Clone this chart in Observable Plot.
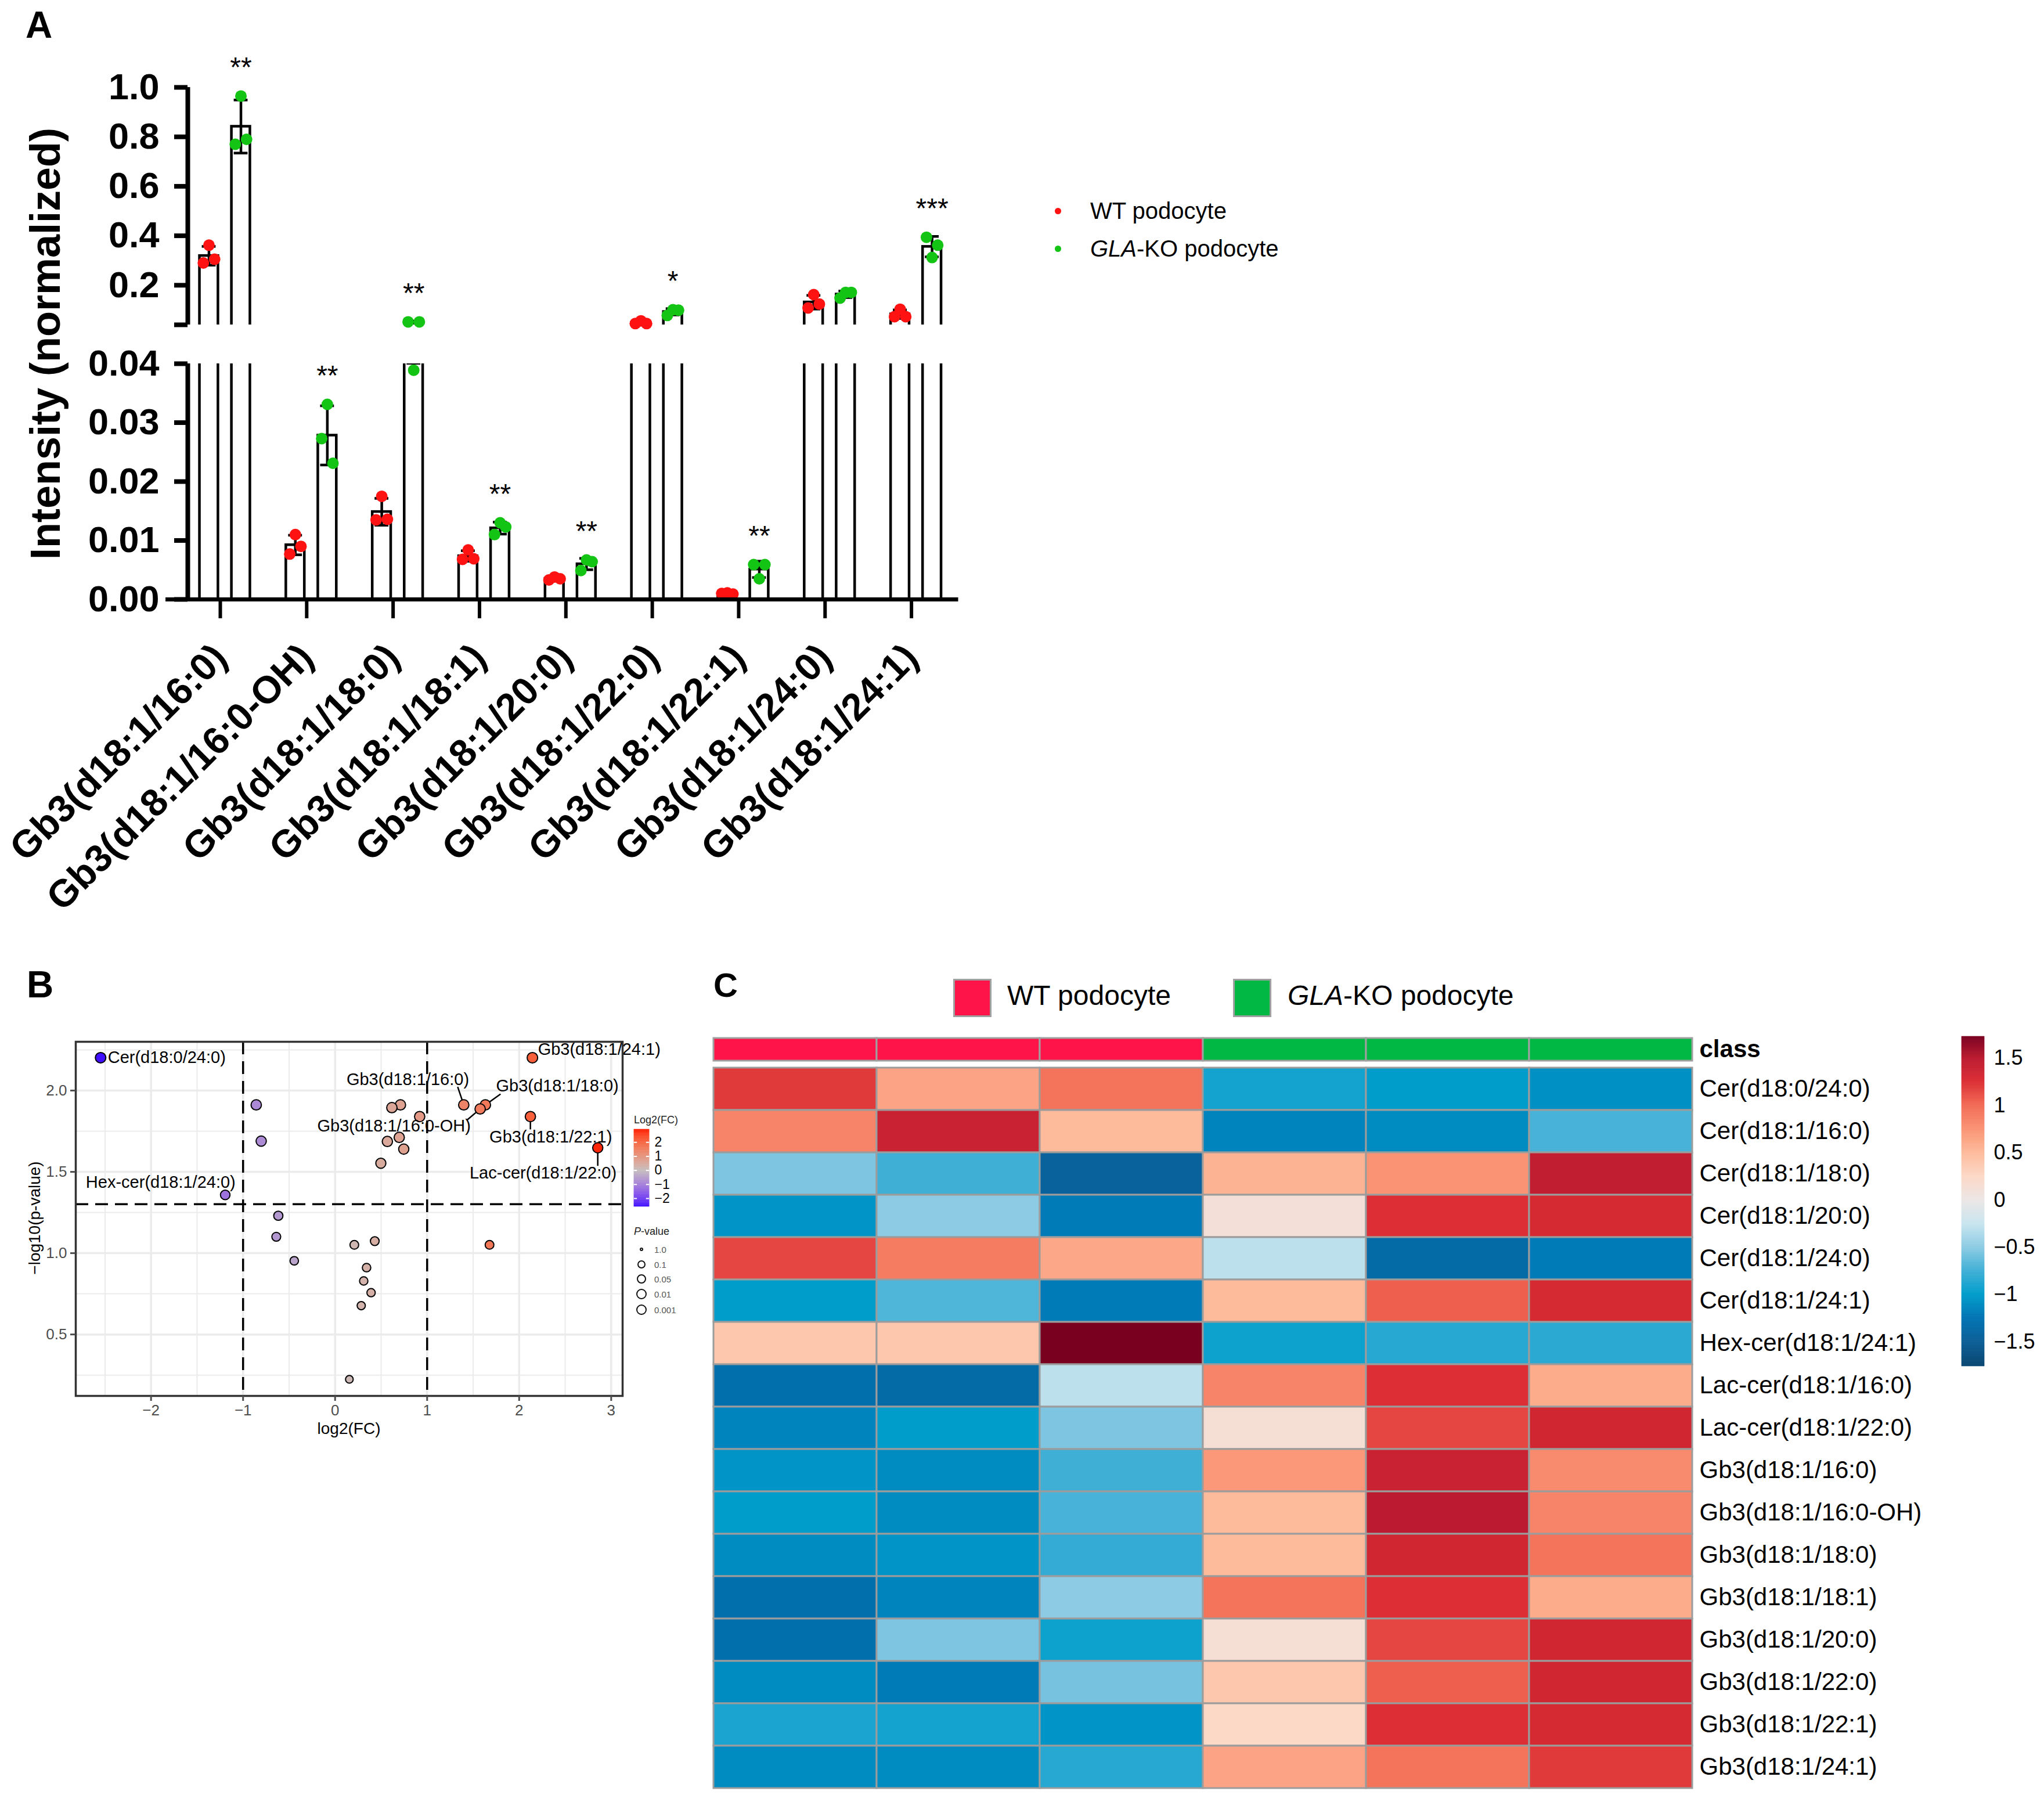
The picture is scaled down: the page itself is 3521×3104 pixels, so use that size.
<!DOCTYPE html>
<html>
<head>
<meta charset="utf-8">
<script src="https://cdn.jsdelivr.net/npm/d3@7"></script>
<script src="https://cdn.jsdelivr.net/npm/@observablehq/plot@0.6"></script>
<style>
html, body { margin: 0; padding: 0; background: #fff; }
#root { position: relative; width: 3521px; height: 3104px; background: #fff; overflow: hidden; }
</style>
</head>
<body>
<div id="root"></div>
<script>
// ================= DATA =================
// Panel A: Gb3 species, 3 replicates per group
const gb3Species = ["Gb3(d18:1/16:0)", "Gb3(d18:1/16:0-OH)", "Gb3(d18:1/18:0)", "Gb3(d18:1/18:1)", "Gb3(d18:1/20:0)", "Gb3(d18:1/22:0)", "Gb3(d18:1/22:1)", "Gb3(d18:1/24:0)", "Gb3(d18:1/24:1)"];
const wtIntensity = [
  [0.290, 0.362, 0.305],
  [0.0077, 0.0110, 0.0090],
  [0.0135, 0.0175, 0.0136],
  [0.0068, 0.0084, 0.0069],
  [0.0033, 0.0038, 0.0035],
  [0.045, 0.056, 0.045],
  [0.0010, 0.0011, 0.0009],
  [0.108, 0.162, 0.124],
  [0.073, 0.103, 0.073]
];
const koIntensity = [
  [0.770, 0.965, 0.790],
  [0.0273, 0.0331, 0.0231],
  [0.052, 0.0389, 0.052],
  [0.0110, 0.0130, 0.0123],
  [0.0049, 0.0067, 0.0064],
  [0.078, 0.101, 0.099],
  [0.0059, 0.0035, 0.0059],
  [0.148, 0.171, 0.171],
  [0.394, 0.312, 0.362]
];
const significance = ["**", "**", "**", "**", "**", "*", "**", "", "***"];
const groupNames = ["WT podocyte", "GLA-KO podocyte"];

// Panel B: volcano
const log2FC = [-2.548, 2.144, -0.857, -0.803, -1.194, -0.617, -0.639, -0.444, 0.617, 0.710, 0.919, 0.568, 0.697, 0.746, 0.497, 1.398, 1.576, 1.633, 2.122, 2.854, 0.209, 0.431, 1.678, 0.342, 0.311, 0.391, 0.284, 0.155];
const negLog10P = [2.202, 2.202, 1.912, 1.689, 1.358, 1.230, 1.101, 0.953, 1.895, 1.912, 1.840, 1.687, 1.712, 1.640, 1.553, 1.912, 1.887, 1.912, 1.840, 1.648, 1.051, 1.074, 1.051, 0.911, 0.829, 0.757, 0.677, 0.224];
const volcanoLabelText = ["Cer(d18:0/24:0)", "Gb3(d18:1/24:1)", "Gb3(d18:1/16:0)", "Gb3(d18:1/18:0)", "Gb3(d18:1/16:0-OH)", "Gb3(d18:1/22:1)", "Lac-cer(d18:1/22:0)", "Hex-cer(d18:1/24:0)"];
const volcanoLabelPoint = [0, 1, 15, 17, 16, 18, 19, 4];
// repelled label placements (data units) and leader-line start points
const labelPlaceX = [-1.829, 2.87, 0.79, 2.415, 0.64, 2.343, 2.26, -1.895];
const labelPlaceY = [2.202, 2.252, 2.068, 2.027, 1.78, 1.712, 1.492, 1.434];
const leaderFromX = [null, null, 1.332, 1.798, 1.434, 2.122, 2.854, null];
const leaderFromY = [null, null, 2.023, 1.979, 1.819, 1.761, 1.537, null];
const pValueLegend = [1.0, 0.1, 0.05, 0.01, 0.001];
const pValueLegendText = ["1.0", "0.1", "0.05", "0.01", "0.001"];

// Panel C: heatmap (row z-scores)
const lipids = ["Cer(d18:0/24:0)", "Cer(d18:1/16:0)", "Cer(d18:1/18:0)", "Cer(d18:1/20:0)", "Cer(d18:1/24:0)", "Cer(d18:1/24:1)", "Hex-cer(d18:1/24:1)", "Lac-cer(d18:1/16:0)", "Lac-cer(d18:1/22:0)", "Gb3(d18:1/16:0)", "Gb3(d18:1/16:0-OH)", "Gb3(d18:1/18:0)", "Gb3(d18:1/18:1)", "Gb3(d18:1/20:0)", "Gb3(d18:1/22:0)", "Gb3(d18:1/22:1)", "Gb3(d18:1/24:1)"];
const samples = ["WT-1", "WT-2", "WT-3", "KO-1", "KO-2", "KO-3"];
const sampleClass = ["WT podocyte", "WT podocyte", "WT podocyte", "GLA-KO podocyte", "GLA-KO podocyte", "GLA-KO podocyte"];
const zScores = [
  [1.20, 0.65, 0.95, -0.92, -1.00, -1.08],
  [0.85, 1.40, 0.50, -1.15, -1.10, -0.72],
  [-0.55, -0.75, -1.45, 0.55, 0.75, 1.45],
  [-1.05, -0.50, -1.20, 0.12, 1.25, 1.30],
  [1.15, 0.90, 0.62, -0.30, -1.35, -1.20],
  [-1.00, -0.70, -1.20, 0.50, 1.05, 1.30],
  [0.40, 0.40, 1.73, -0.95, -0.85, -0.83],
  [-1.30, -1.35, -0.30, 0.85, 1.25, 0.60],
  [-1.15, -1.00, -0.55, 0.15, 1.15, 1.35],
  [-1.05, -1.10, -0.75, 0.72, 1.40, 0.80],
  [-1.00, -1.10, -0.72, 0.50, 1.50, 0.85],
  [-1.10, -1.05, -0.80, 0.50, 1.35, 0.95],
  [-1.30, -1.15, -0.50, 0.95, 1.25, 0.60],
  [-1.30, -0.55, -0.95, 0.15, 1.15, 1.35],
  [-1.10, -1.20, -0.57, 0.40, 1.05, 1.35],
  [-0.90, -0.92, -1.05, 0.25, 1.25, 1.30],
  [-1.10, -1.10, -0.85, 0.65, 0.95, 1.20]
];
const heatTicks = [-1.5, -1, -0.5, 0, 0.5, 1, 1.5];

// ================= STYLE / HELPERS =================
const F = '"Liberation Sans", Arial, Helvetica, sans-serif';
const root = document.getElementById("root");
const RED = "#FF1212", GREEN = "#14C414";
const minus = d => (d < 0 ? "\u2212" : "") + Math.abs(d);

function place(node, left, top, w, h) {
  const wrap = document.createElement("div");
  wrap.style.cssText = `position:absolute;left:${left}px;top:${top}px;width:${w}px;height:${h}px;`;
  wrap.appendChild(node);
  root.appendChild(wrap);
}
function txt(content, x, base, size, o = {}) {
  const d = document.createElement("div");
  d.innerHTML = content;
  const tx = o.anchor === "middle" ? "translateX(-50%)" : o.anchor === "end" ? "translateX(-100%)" : "none";
  d.style.cssText = `position:absolute;left:${x}px;top:${base - 0.8465 * size}px;font-size:${size}px;line-height:${size}px;white-space:nowrap;font-family:${F};font-weight:${o.weight || "normal"};color:${o.color || "#000"};transform:${tx};`;
  root.appendChild(d);
}
function vtxt(content, cx, cy, size, o = {}) {
  const d = document.createElement("div");
  d.innerHTML = content;
  d.style.cssText = `position:absolute;left:${cx}px;top:${cy}px;font-size:${size}px;line-height:${size}px;white-space:nowrap;font-family:${F};font-weight:${o.weight || "normal"};color:${o.color || "#000"};transform:translate(-50%,-50%) rotate(-90deg);`;
  root.appendChild(d);
}
function box(x, y, w, h, css) {
  const d = document.createElement("div");
  d.style.cssText = `position:absolute;left:${x}px;top:${y}px;width:${w}px;height:${h}px;box-sizing:border-box;${css}`;
  root.appendChild(d);
}
const baseStyle = (size, weight = "normal") => ({fontFamily: F, fontSize: size + "px", fontWeight: weight, color: "black", background: "transparent", overflow: "visible"});

// ================= PANEL A =================
const OFF = 0.185, HW = 0.107, CW = 0.08, JIT = 0.065, X0 = -0.43;
const barsA = [], capsA = [], dotsA = [], sigA = [];
gb3Species.forEach((s, i) => {
  [wtIntensity[i], koIntensity[i]].forEach((vals, g) => {
    const x = i + (g ? OFF : -OFF);
    const mean = d3.mean(vals), sd = d3.deviation(vals);
    barsA.push({x, g, mean, sd});
    capsA.push({x, y: mean - sd}, {x, y: mean + sd});
    vals.forEach((v, j) => dotsA.push({x: x + (j - 1) * JIT, v, g}));
    if (g === 1 && significance[i]) sigA.push({x, vmax: d3.max(vals), label: significance[i]});
  });
});

function segmentPlot(upper) {
  const lo = upper ? 0.04 : 0, hi = upper ? 1.0 : 0.04;
  const inSeg = v => upper ? v >= 0.04 : v < 0.04;
  const marks = [
    Plot.rect(barsA, {x1: d => d.x - HW, x2: d => d.x + HW, y1: 0, y2: "mean", fill: "white", stroke: "black", strokeWidth: 4.5, clip: true}),
    Plot.ruleX(barsA, {x: "x", y1: d => d.mean - d.sd, y2: d => d.mean + d.sd, stroke: "black", strokeWidth: 4.5, clip: true}),
    Plot.ruleY(capsA, {y: "y", x1: d => d.x - CW, x2: d => d.x + CW, stroke: "black", strokeWidth: 4.5, clip: true}),
    Plot.dot(dotsA.filter(d => inSeg(d.v) && d.g === 0), {x: "x", y: "v", r: 10, fill: RED}),
    Plot.dot(dotsA.filter(d => inSeg(d.v) && d.g === 1), {x: "x", y: "v", r: 10, fill: GREEN}),
    Plot.text(sigA.filter(d => inSeg(d.vmax)), {x: "x", y: "vmax", text: "label", dy: -49, fontSize: 48, fontWeight: "normal", lineAnchor: "middle", fill: "black"}),
    Plot.ruleX([X0], {y1: lo, y2: hi, stroke: "black", strokeWidth: 8})
  ];
  if (upper) {
    marks.push(
      Plot.axisY({ticks: [0.2, 0.4, 0.6, 0.8, 1.0], tickFormat: d3.format(".1f"), tickSize: 23, tickPadding: 26, strokeWidth: 8, fontSize: 63, fontWeight: "bold", label: null}),
      Plot.axisY({ticks: [0.04], tickFormat: () => "", tickSize: 23, strokeWidth: 8, label: null})
    );
  } else {
    marks.push(
      Plot.axisY({ticks: [0, 0.01, 0.02, 0.03, 0.04], tickFormat: d3.format(".2f"), tickSize: 23, tickPadding: 26, strokeWidth: 8, fontSize: 63, fontWeight: "bold", label: null}),
      Plot.ruleY([0], {x1: -0.685, x2: 8.49, stroke: "black", strokeWidth: 7}),
      Plot.axisX({ticks: d3.range(9), tickFormat: i => gb3Species[i], tickRotate: -45, tickSize: 33, tickPadding: 56, dx: -8, strokeWidth: 6, fontSize: 66, fontWeight: "bold", label: null})
    );
  }
  return Plot.plot({
    width: 1700,
    height: upper ? 600 : 1100,
    marginLeft: 323, marginRight: 48,
    marginTop: upper ? 150 : 66,
    marginBottom: upper ? 41 : 628,
    x: {type: "linear", domain: [X0, 8.5], axis: null},
    y: {type: "linear", domain: [lo, hi], axis: null},
    style: baseStyle(63, "bold"),
    marks
  });
}
place(segmentPlot(true), 0, 0, 1700, 600);
place(segmentPlot(false), 0, 560, 1700, 1100);

txt("A", 44, 65, 64, {weight: "bold"});
vtxt("Intensity (normalized)", 78, 592, 72, {weight: "bold"});
// legend A
box(1816.5, 357.5, 11, 11, `border-radius:50%;background:${RED};`);
box(1816.5, 422.5, 11, 11, `border-radius:50%;background:${GREEN};`);
txt("WT podocyte", 1878, 377, 40);
txt("<i>GLA</i>-KO podocyte", 1878, 442, 40);

// ================= PANEL B =================
const fcColorOpts = {type: "linear", domain: [-2.58, 0, 2.92], range: ["#3A0AFF", "#C6BEBE", "#FF1A00"], interpolate: "lab"};
const pSizeOpts = {type: "linear", domain: [0, 0.2, 1, 1.6, 3], range: [3.3, 6.6, 7.4, 8.8, 9.4]};
const volcanoPoints = log2FC.map((x, i) => ({x, y: negLog10P[i]}));
const volcanoLabels = volcanoLabelText.map((t, k) => ({text: t, x: labelPlaceX[k], y: labelPlaceY[k]}));
const leaders = volcanoLabelPoint.map((p, k) => ({x1: leaderFromX[k], y1: leaderFromY[k], x2: log2FC[p], y2: negLog10P[p]})).filter(d => d.x1 != null);

const volcano = Plot.plot({
  width: 1100, height: 850,
  marginLeft: 130, marginRight: 28, marginTop: 144, marginBottom: 96,
  x: {domain: [-2.818, 3.124], axis: null},
  y: {domain: [0.122, 2.300], axis: null},
  color: fcColorOpts,
  r: pSizeOpts,
  style: baseStyle(26),
  marks: [
    Plot.ruleX([-2.5, -1.5, -0.5, 0.5, 1.5, 2.5], {stroke: "#EBEBEB", strokeWidth: 2}),
    Plot.ruleY([0.25, 0.75, 1.25, 1.75, 2.25], {stroke: "#EBEBEB", strokeWidth: 2}),
    Plot.ruleX([-2, -1, 0, 1, 2, 3], {stroke: "#EBEBEB", strokeWidth: 3.5}),
    Plot.ruleY([0.5, 1, 1.5, 2], {stroke: "#EBEBEB", strokeWidth: 3.5}),
    Plot.ruleX([-1, 1], {stroke: "black", strokeWidth: 3.5, strokeDasharray: "22,12"}),
    Plot.ruleY([-Math.log10(0.05)], {stroke: "black", strokeWidth: 3.5, strokeDasharray: "22,12"}),
    Plot.link(leaders, {x1: "x1", y1: "y1", x2: "x2", y2: "y2", stroke: "black", strokeWidth: 2.5}),
    Plot.dot(volcanoPoints, {x: "x", y: "y", r: "y", fill: "x", stroke: "black", strokeWidth: 2}),
    Plot.text(volcanoLabels, {x: "x", y: "y", text: "text", fontSize: 29, fill: "black"}),
    Plot.frame({stroke: "#333333", strokeWidth: 3.5}),
    Plot.axisX({ticks: [-2, -1, 0, 1, 2, 3], tickFormat: minus, tickSize: 9, tickPadding: 6, strokeWidth: 3, color: "#4D4D4D", fontSize: 26, label: null}),
    Plot.axisY({ticks: [0.5, 1, 1.5, 2], tickFormat: d3.format(".1f"), tickSize: 9, tickPadding: 6, strokeWidth: 3, color: "#4D4D4D", fontSize: 26, label: null})
  ]
});
place(volcano, 0, 1650, 1100, 850);
txt("B", 46, 1718, 64, {weight: "bold"});
txt("log2(FC)", 601, 2471, 28, {anchor: "middle"});
vtxt("\u2212log10(p-value)", 60, 2098, 28);

// volcano colour bar legend
const fcStripes = d3.range(160).map(k => {
  const a = -2.58 + k * 5.5 / 160, b = -2.58 + (k + 1) * 5.5 / 160;
  return {a, b, m: (a + b) / 2};
});
const fcBar = Plot.plot({
  width: 90, height: 133, marginLeft: 0, marginRight: 64, marginTop: 0, marginBottom: 0,
  x: {domain: [0, 1], axis: null},
  y: {domain: [-2.58, 2.92], axis: null},
  color: fcColorOpts,
  style: baseStyle(23),
  marks: [
    Plot.rect(fcStripes, {x1: 0, x2: 1, y1: "a", y2: "b", fill: "m", stroke: "m", strokeWidth: 0.6}),
    Plot.ruleY([-2, -1, 0, 1, 2], {x1: 0, x2: 0.2, stroke: "white", strokeWidth: 2}),
    Plot.ruleY([-2, -1, 0, 1, 2], {x1: 0.8, x2: 1, stroke: "white", strokeWidth: 2}),
    Plot.axisY({anchor: "right", ticks: [-2, -1, 0, 1, 2], tickFormat: minus, tickSize: 0, tickPadding: 9, fontSize: 23, label: null})
  ]
});
place(fcBar, 1092, 1945, 90, 133);
txt("Log2(FC)", 1092, 1935, 18, {color: "#222"});
txt("<i>P</i>-value", 1092, 2127, 18, {color: "#222"});
const rScale = Plot.scale({r: pSizeOpts});
const legendRowsY = [2152, 2178, 2203, 2229, 2256];
pValueLegend.forEach((p, k) => {
  const r = rScale.apply(-Math.log10(p));
  box(1105 - r, legendRowsY[k] - r, 2 * r, 2 * r, "border-radius:50%;border:2px solid #111;background:#fff;");
  txt(pValueLegendText[k], 1127, legendRowsY[k] + 5.5, 15, {color: "#555"});
});

// ================= PANEL C =================
const heatColorOpts = {
  type: "linear",
  domain: [-1.76, -1.5, -1.25, -1.0, -0.75, -0.5, -0.25, 0, 0.25, 0.5, 0.75, 1.0, 1.25, 1.5, 1.73],
  range: ["#08456F", "#0B5E96", "#0073B3", "#009DCB", "#40AFD6", "#8CCBE3", "#C9E5EF", "#EBE6E5", "#FCD8C7", "#FDBB9B", "#FA9374", "#F26B55", "#DC2E34", "#BC1A30", "#7A0020"]
};
const heatCells = [];
lipids.forEach((l, i) => samples.forEach((s, j) => heatCells.push({lipid: l, sample: s, z: zScores[i][j]})));
const classCells = samples.map((s, j) => ({sample: s, cls: sampleClass[j]}));
const classColor = {type: "ordinal", domain: groupNames, range: ["#FF1449", "#00B843"]};

const HEAT_W = 1686, LABEL_W = 420;
const classBar = Plot.plot({
  width: HEAT_W + LABEL_W, height: 39, margin: 0, marginRight: LABEL_W,
  x: {type: "band", domain: samples, padding: 0, axis: null},
  y: {type: "band", domain: ["class"], padding: 0, axis: null},
  color: classColor,
  style: baseStyle(42),
  marks: [
    Plot.cell(classCells, {x: "sample", y: () => "class", fill: "cls", stroke: "#A0A0A0", strokeWidth: 3, inset: 0}),
    Plot.axisY({anchor: "right", tickSize: 0, tickPadding: 12, fontSize: 42, fontWeight: "bold", label: null})
  ]
});
place(classBar, 1229, 1788, HEAT_W + LABEL_W, 39);

const heat = Plot.plot({
  width: HEAT_W + LABEL_W, height: 1241, margin: 0, marginRight: LABEL_W,
  x: {type: "band", domain: samples, padding: 0, axis: null},
  y: {type: "band", domain: lipids, padding: 0, axis: null},
  color: heatColorOpts,
  style: baseStyle(42),
  marks: [
    Plot.cell(heatCells, {x: "sample", y: "lipid", fill: "z", stroke: "#9C9C9C", strokeWidth: 3, inset: 0}),
    Plot.axisY({anchor: "right", tickSize: 0, tickPadding: 12, fontSize: 42, label: null})
  ]
});
place(heat, 1229, 1839, HEAT_W + LABEL_W, 1241);

// heatmap colour bar
const zStripes = d3.range(300).map(k => {
  const a = -1.76 + k * 3.49 / 300, b = -1.76 + (k + 1) * 3.49 / 300;
  return {a, b, m: (a + b) / 2};
});
const zBar = Plot.plot({
  width: 142, height: 568, marginLeft: 0, marginRight: 103, marginTop: 0, marginBottom: 0,
  x: {domain: [0, 1], axis: null},
  y: {domain: [-1.76, 1.73], axis: null},
  color: heatColorOpts,
  style: baseStyle(36),
  marks: [
    Plot.rect(zStripes, {x1: 0, x2: 1, y1: "a", y2: "b", fill: "m", stroke: "m", strokeWidth: 0.6}),
    Plot.axisY({anchor: "right", ticks: heatTicks, tickFormat: minus, tickSize: 0, tickPadding: 16, fontSize: 36, label: null})
  ]
});
place(zBar, 3379, 1785, 142, 568);

txt("C", 1229, 1717, 58, {weight: "bold"});
// class legend at top
box(1642, 1686, 66, 66, "background:#FF1449;border:3px solid #A0A0A0;");
box(2124, 1686, 66, 66, "background:#00B843;border:3px solid #A0A0A0;");
txt("WT podocyte", 1735, 1732, 48);
txt("<i>GLA</i>-KO podocyte", 2218, 1732, 48);
</script>
</body>
</html>
